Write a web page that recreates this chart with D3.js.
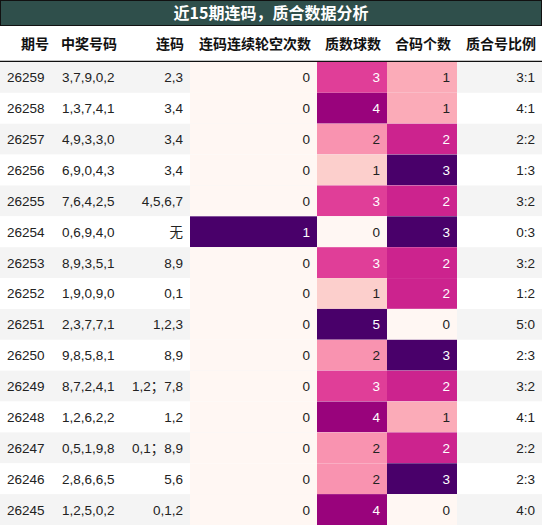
<!DOCTYPE html>
<html lang="zh">
<head>
<meta charset="UTF-8">
<script src="https://d3js.org/d3.v7.min.js"></script>
<style>
  body { margin: 0; font-family: "Noto Sans CJK SC", "Liberation Sans", sans-serif; }
</style>
</head>
<body>
<svg id="chart" width="542" height="525"></svg>
<script>
const columns = ["期号", "中奖号码", "连码", "连码连续轮空次数", "质数球数", "合码个数", "质合号比例"];
const issues = ["26259","26258","26257","26256","26255","26254","26253","26252","26251","26250","26249","26248","26247","26246","26245"];
const numbers = ["3,7,9,0,2","1,3,7,4,1","4,9,3,3,0","6,9,0,4,3","7,6,4,2,5","0,6,9,4,0","8,9,3,5,1","1,9,0,9,0","2,3,7,7,1","9,8,5,8,1","8,7,2,4,1","1,2,6,2,2","0,5,1,9,8","2,8,6,6,5","1,2,5,0,2"];
const pairs = ["2,3","3,4","3,4","3,4","4,5,6,7","无","8,9","0,1","1,2,3","8,9","1,2；7,8","1,2","0,1；8,9","5,6","0,1,2"];
const missCount = [0,0,0,0,0,1,0,0,0,0,0,0,0,0,0];
const primeCount = [3,4,2,1,3,0,3,1,5,2,3,4,2,2,4];
const compCount = [1,1,2,3,2,3,2,2,0,3,2,1,2,3,0];
const ratios = ["3:1","4:1","2:2","1:3","3:2","0:3","3:2","1:2","5:0","2:3","3:2","4:1","2:2","2:3","4:0"];

const W = 542, titleH = 26, headH = 36;
const edges = [0, 55, 130, 190, 317, 387, 457, 542];
const y = d3.scaleBand().domain(d3.range(issues.length)).range([titleH + headH, 525]);
const svg = d3.select("#chart");

svg.append("rect").attr("width", W).attr("height", titleH).attr("fill", "#2f4f4b");
svg.append("rect").attr("x", 0.5).attr("y", 0.5).attr("width", W - 1).attr("height", titleH - 1)
  .attr("fill", "none").attr("stroke", "#111");
svg.append("text").attr("x", W / 2).attr("y", titleH / 2 + 6).attr("text-anchor", "middle")
  .attr("fill", "#fff").attr("font-size", 16).attr("font-weight", "bold").text("近15期连码，质合数据分析");

columns.forEach((c, i) => {
  const ax = i === 1 ? edges[i] + 6 : edges[i + 1] - 6;
  svg.append("text").attr("x", ax).attr("y", titleH + headH / 2 + 5)
    .attr("text-anchor", i === 1 ? "start" : "end")
    .attr("font-size", 14).attr("font-weight", "bold").attr("fill", "#111").text(c);
});
svg.append("line").attr("x1", 0).attr("x2", W).attr("y1", titleH + headH - 0.5).attr("y2", titleH + headH - 0.5)
  .attr("stroke", "#111").attr("stroke-width", 1.5);

const heat = [null, null, null, { v: missCount, max: 1 }, { v: primeCount, max: 5 }, { v: compCount, max: 3 }, null];
const texts = [issues, numbers, pairs, missCount, primeCount, compCount, ratios];

issues.forEach((_, r) => {
  const g = svg.append("g").attr("transform", `translate(0,${y(r)})`);
  g.append("rect").attr("width", W).attr("height", y.bandwidth()).attr("fill", r % 2 === 0 ? "#f4f4f4" : "#fff");
  texts.forEach((col, i) => {
    let fill = "#222";
    if (heat[i]) {
      const t = heat[i].v[r] / heat[i].max;
      g.append("rect").attr("x", edges[i]).attr("width", edges[i + 1] - edges[i]).attr("height", y.bandwidth())
        .attr("fill", d3.interpolateRdPu(t));
      if (t > 0.5) fill = "#fff";
    }
    const left = i <= 1;
    g.append("text").attr("x", left ? edges[i] + 7 : edges[i + 1] - 7).attr("y", y.bandwidth() / 2 + 5)
      .attr("text-anchor", left ? "start" : "end").attr("font-size", 13.5)
      .attr("font-family", "Liberation Sans, Noto Sans CJK SC, sans-serif")
      .attr("fill", fill).text(col[r]);
  });
});
</script>
</body>
</html>
